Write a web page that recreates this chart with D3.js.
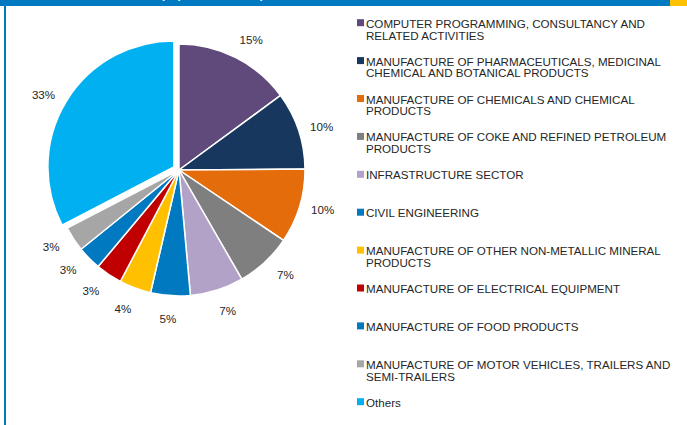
<!DOCTYPE html>
<html><head><meta charset="utf-8">
<script src="https://cdn.jsdelivr.net/npm/d3@7"></script>
<style>body{margin:0;background:#fff;}svg{display:block;}</style>
</head><body>
<svg id="c" width="687" height="425"></svg>
<script>
const categories = [
  "COMPUTER PROGRAMMING, CONSULTANCY AND\nRELATED ACTIVITIES",
  "MANUFACTURE OF PHARMACEUTICALS, MEDICINAL\nCHEMICAL AND BOTANICAL PRODUCTS",
  "MANUFACTURE OF CHEMICALS AND CHEMICAL\nPRODUCTS",
  "MANUFACTURE OF COKE AND REFINED PETROLEUM\nPRODUCTS",
  "INFRASTRUCTURE SECTOR",
  "CIVIL ENGINEERING",
  "MANUFACTURE OF OTHER NON-METALLIC MINERAL\nPRODUCTS",
  "MANUFACTURE OF ELECTRICAL EQUIPMENT",
  "MANUFACTURE OF FOOD PRODUCTS",
  "MANUFACTURE OF MOTOR VEHICLES, TRAILERS AND\nSEMI-TRAILERS",
  "Others"
];
const values = [15.0, 10.0, 9.6, 7.3, 6.9, 5.1, 4.1, 3.4, 3.1, 3.2, 32.8];
const colors = ["#604A7B","#17375E","#E46C0A","#7F7F7F","#B3A2C7","#0079C1","#FFC000","#C00000","#0079C1","#A6A6A6","#00B0F0"];
const explodedIndex = 10;
const titleText = "(in per cent of total)";

const FONT = "Liberation Sans, Arial, sans-serif";
const svg = d3.select("#c");
// header bar
svg.append("rect").attr("x",0).attr("y",0).attr("width",670).attr("height",6).attr("fill","#0079C1");
svg.append("rect").attr("x",670).attr("y",0).attr("width",17).attr("height",6).attr("fill","#FFC000");
svg.append("text").attr("x",161).attr("y",-1.5).attr("fill","#fff").attr("font-family",FONT)
  .attr("font-size",11).attr("font-weight","bold").text(titleText);
svg.append("rect").attr("x",4).attr("y",6).attr("width",2).attr("height",419).attr("fill","#0079C1");

const cx = 179, cy = 170, R = 126, labelR = 149, explode = 6, pull = 2.6 * Math.PI/180;
const pie = d3.pie().sort(null).value(d=>d);
const arcs = pie(values);
const arc = d3.arc().innerRadius(0).outerRadius(R);
const total = d3.sum(values);

const g = svg.append("g").attr("transform",`translate(${cx},${cy})`);
arcs.forEach((a,i)=>{
  const mid = (a.startAngle+a.endAngle)/2;
  const off = i===explodedIndex ? explode : 0;
  const dx = Math.sin(mid)*off, dy = -Math.cos(mid)*off;
  g.append("path").attr("d",arc(a)).attr("fill",colors[i])
    .attr("stroke","#fff").attr("stroke-width",1.5).attr("stroke-linejoin","round")
    .attr("transform",`translate(${dx},${dy})`);
  const la = mid + pull*Math.sin(2*mid);
  g.append("text").attr("x",dx + Math.sin(la)*labelR).attr("y",dy - Math.cos(la)*labelR)
    .attr("text-anchor","middle").attr("dominant-baseline","central")
    .attr("font-family",FONT).attr("font-size",11.6).attr("fill","#262626")
    .text(Math.round(values[i]/total*100)+"%");
});

// legend
const lg = svg.append("g");
const y0 = 22.7, step = 37.9, lineH = 11.8;
categories.forEach((c,i)=>{
  const y = y0 + i*step;
  lg.append("rect").attr("x",357).attr("y",y-3.5).attr("width",7).attr("height",7).attr("fill",colors[i]);
  const t = lg.append("text").attr("x",366).attr("y",y)
    .attr("font-family",FONT).attr("font-size",11.6).attr("fill","#262626")
    .attr("dominant-baseline","central");
  c.split("\n").forEach((line,j)=>{
    t.append("tspan").attr("x",366).attr("dy", j===0?0:lineH).text(line);
  });
});
</script>
</body></html>
